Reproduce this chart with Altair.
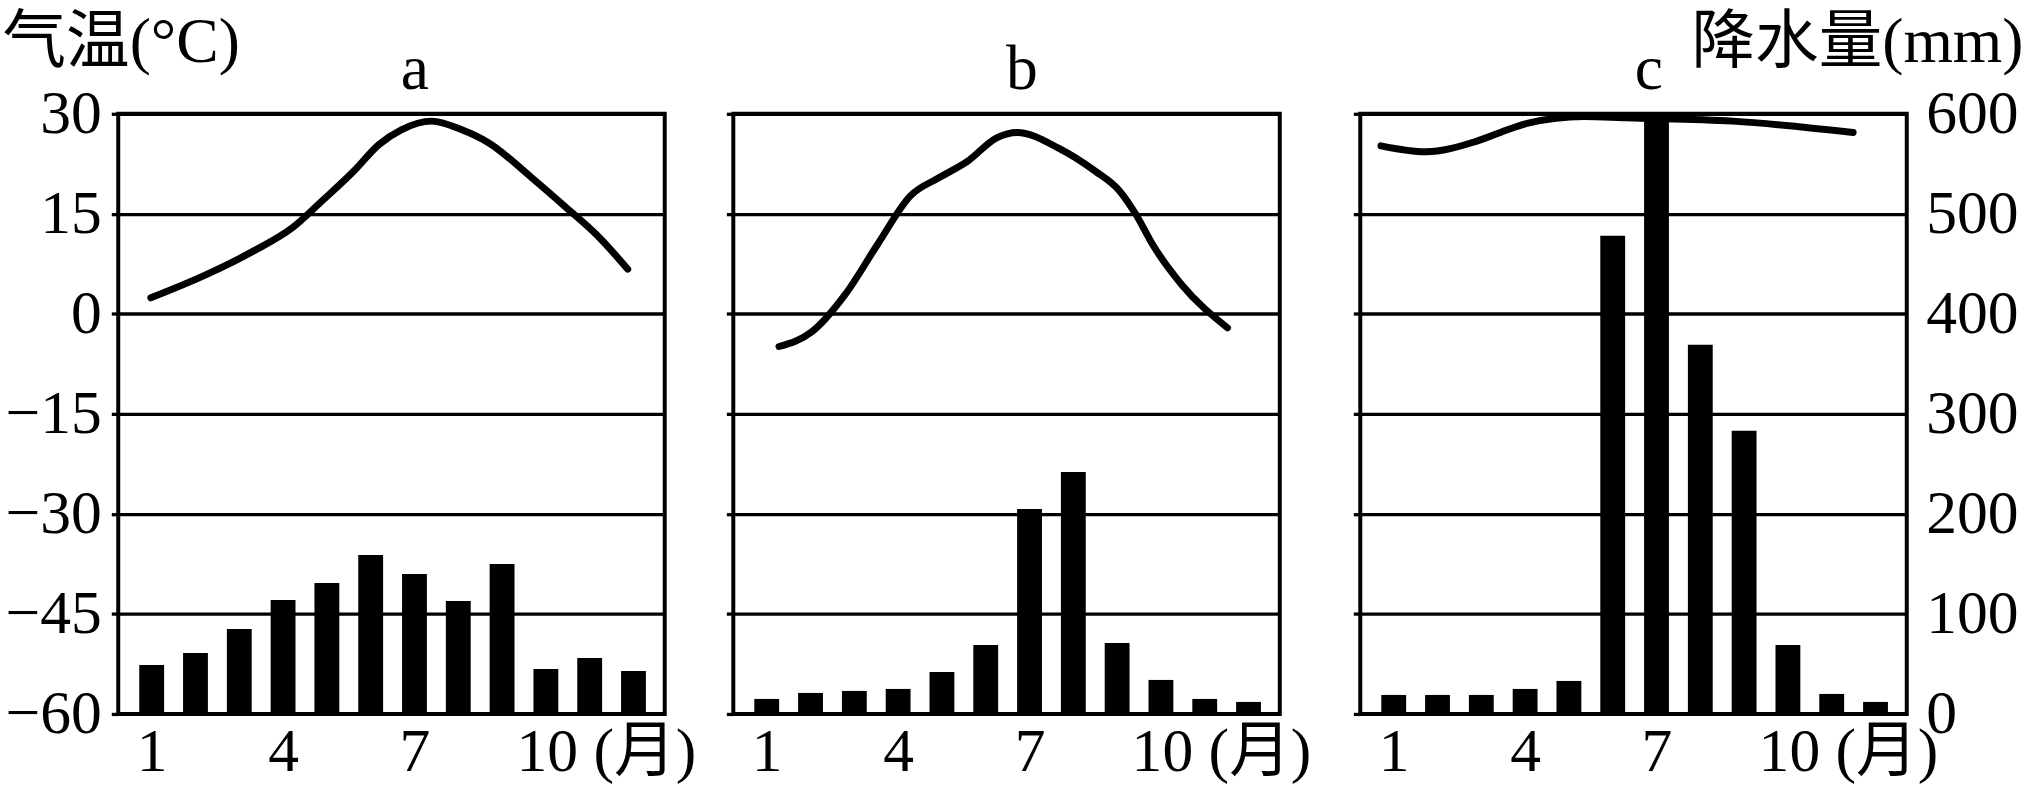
import altair as alt
import pandas as pd

# ---------------- data ----------------
months = list(range(1, 13))
precip_a = [49, 61, 85, 114, 131, 159, 140, 113, 150, 45, 56, 43]
precip_b = [15, 21, 23, 25, 42, 69, 205, 242, 71, 34, 15, 12]
precip_c = [19, 19, 19, 25, 33, 478, 600, 369, 283, 69, 20, 12]

# temperature curves (position along the month axis, temperature in °C)
temp_pos_a = [0.98, 2.22, 3.32, 4.21, 4.9, 5.6, 6.19, 6.7, 7.39, 8.08, 8.68, 9.68, 10.47, 11.18, 11.87]
temp_a = [2.4, 5.8, 9.4, 12.9, 17.0, 21.3, 25.4, 27.6, 28.9, 27.6, 25.7, 20.4, 15.9, 11.7, 6.7]
temp_pos_b = [1.28, 2.03, 2.78, 3.53, 4.28, 4.93, 5.59, 6.25, 6.72, 7.65, 8.5, 9.06, 9.43, 9.81, 10.47, 11.52]
temp_b = [-4.9, -2.7, 2.8, 10.4, 17.7, 20.4, 22.9, 26.4, 27.2, 24.9, 21.4, 18.4, 14.9, 10.4, 4.4, -2.1]
temp_pos_c = [0.71, 1.73, 2.9, 3.68, 4.07, 5.34, 6.31, 8.74, 11.49]
temp_c = [25.2, 24.3, 25.9, 27.8, 28.6, 29.6, 29.4, 28.9, 27.2]

temp_ticks = [-60, -45, -30, -15, 0, 15, 30]
precip_ticks = [0, 100, 200, 300, 400, 500, 600]
month_ticks = [1, 4, 7, 10]

FONT = "Liberation Serif, Noto Sans CJK SC"
W, H = 550, 604
FS = 62

x_scale = alt.Scale(domain=[0.35, 12.6], nice=False, zero=False)
t_scale = alt.Scale(domain=[-60, 30], nice=False, zero=False)
p_scale = alt.Scale(domain=[0, 600], nice=False, zero=False)


def bottom_axis():
    return alt.Axis(
        values=month_ticks, grid=False, domain=False, ticks=False, tickSize=0,
        labelFont=FONT, labelFontSize=FS, labelColor="black", labelPadding=8,
        labelBaseline="top", labelFlush=False, labelOverlap=False, labelLimit=0,
        labelExpr="datum.value == 10 ? '10 (月)' : datum.label",
        labelAlign={"condition": {"test": "datum.value == 10", "value": "left"}, "value": "center"},
        labelOffset={"condition": {"test": "datum.value == 10", "value": -30}, "value": 0},
        title=None,
    )


def top_axis(name, dx):
    return alt.Axis(
        orient="top", labels=False, ticks=False, grid=False, domain=False,
        title=name, titleFont=FONT, titleFontSize=64, titleFontWeight="normal",
        titleColor="black", titleX=W / 2 + dx, titleY=-25, titleAlign="center",
        titleBaseline="alphabetic", titleAngle=0, titleLimit=0,
    )


def temp_axis(show_labels, title_text, title_opacity):
    return alt.Axis(
        values=temp_ticks, grid=True, gridColor="black", gridWidth=3.3, gridOpacity=1,
        domain=False, ticks=True, tickSize=7, tickWidth=3.3, tickColor="black",
        labels=show_labels, labelFont=FONT, labelFontSize=FS, labelColor="black",
        labelPadding=10, labelFlush=False, labelOverlap=False, labelLimit=0,
        title=title_text, titleFont=FONT, titleFontSize=64, titleFontWeight="normal",
        titleColor="black", titleOpacity=title_opacity, titleAngle=0, titleLimit=0,
        titleX=(-117 if show_labels else 0), titleY=-53, titleAlign="left",
        titleBaseline="alphabetic",
    )


def precip_axis():
    return alt.Axis(
        orient="right", values=precip_ticks, grid=False, domain=False,
        ticks=False, tickSize=0, labelFont=FONT, labelFontSize=FS,
        labelColor="black", labelPadding=19, labelFlush=False, labelOverlap=False,
        labelLimit=0,
        title="降水量(mm)", titleFont=FONT, titleFontSize=64, titleFontWeight="normal",
        titleColor="black", titleAngle=0, titleX=117, titleY=-53, titleLimit=0,
        titleAlign="right", titleBaseline="alphabetic",
    )


def panel(name, precip, tpos, temps, dx, t_axis, p_axis):
    bars_df = pd.DataFrame({"month": months, "precip": precip})
    line_df = pd.DataFrame({"pos": tpos, "temp": temps})
    bars = alt.Chart(bars_df).mark_bar(color="black", size=25).encode(
        x=alt.X("month:Q", scale=x_scale, axis=bottom_axis()),
        y=alt.Y("precip:Q", scale=p_scale, axis=p_axis),
    )
    line = alt.Chart(line_df).mark_line(
        color="black", strokeWidth=7, interpolate="monotone", strokeCap="round"
    ).encode(
        x=alt.X("pos:Q", scale=x_scale, axis=top_axis(name, dx)),
        y=alt.Y("temp:Q", scale=t_scale, axis=t_axis),
    )
    return (
        alt.layer(bars, line)
        .resolve_scale(y="independent")
        .resolve_axis(x="independent", y="independent")
        .properties(width=W, height=H)
    )


pa = panel("a", precip_a, temp_pos_a, temp_a, 23, temp_axis(True, "气温(°C)", 1), None)
pb = panel("b", precip_b, temp_pos_b, temp_b, 15, temp_axis(False, "气温(°C)", 0), None)
pc = panel("c", precip_c, temp_pos_c, temp_c, 15, temp_axis(False, None, 1), precip_axis())

chart = (
    alt.hconcat(alt.hconcat(pa, pb, spacing=24), pc, spacing=36)
    .properties(padding={"left": 0, "top": 6, "right": 0, "bottom": 0}, background="white")
    .configure_view(stroke="black", strokeWidth=4)
)

chart.save("out.html", embed_options={"renderer": "svg", "actions": False})
